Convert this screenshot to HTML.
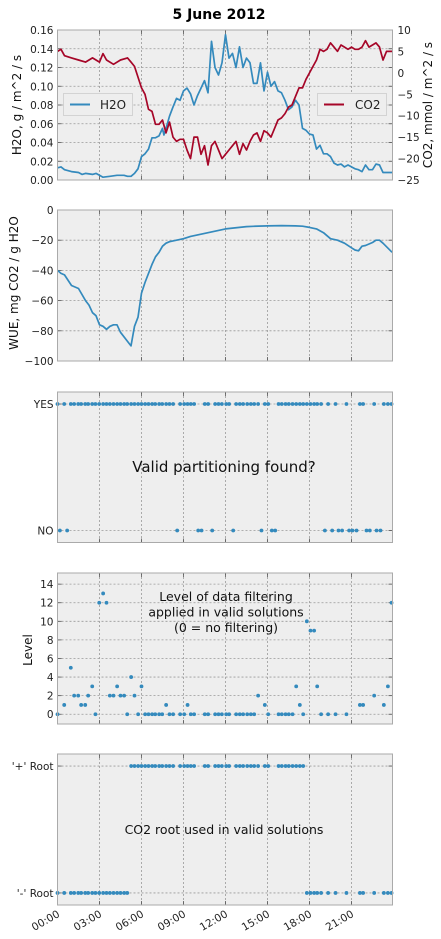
<!DOCTYPE html>
<html><head><meta charset="utf-8">
<style>
html,body{margin:0;padding:0;background:#fff;}
svg{display:block;font-family:"DejaVu Sans","Liberation Sans",sans-serif;}
</style></head>
<body>
<svg id="c" width="441" height="939" viewBox="0 0 441 939" xmlns="http://www.w3.org/2000/svg">
<text x="219" y="19" text-anchor="middle" font-size="14" font-weight="bold" fill="#000">5 June 2012</text>
</svg>
<script>
const h2oT=[0,0.25,0.5,1,1.5,1.75,2,2.5,2.75,3,3.25,3.75,4.25,4.75,5,5.25,5.5,5.75,6,6.25,6.5,6.75,7,7.25,7.5,7.6,7.75,8,8.25,8.5,8.75,9,9.25,9.5,9.75,10,10.25,10.5,10.75,11,11.25,11.5,11.75,12,12.25,12.5,12.75,13,13.25,13.5,13.75,14,14.25,14.5,14.75,15,15.25,15.5,15.75,16,16.25,16.5,16.75,17,17.25,17.5,17.75,18,18.25,18.5,18.75,19,19.25,19.5,19.75,20,20.25,20.5,20.75,21,21.25,21.5,21.75,22,22.25,22.5,22.75,23,23.25,23.9];
const h2oV=[0.013,0.014,0.011,0.009,0.008,0.006,0.007,0.006,0.007,0.005,0.003,0.004,0.005,0.005,0.004,0.004,0.007,0.012,0.025,0.028,0.033,0.045,0.045,0.047,0.055,0.048,0.055,0.068,0.078,0.087,0.085,0.095,0.098,0.092,0.080,0.090,0.098,0.106,0.093,0.148,0.120,0.112,0.125,0.155,0.130,0.135,0.120,0.142,0.120,0.130,0.125,0.103,0.103,0.125,0.095,0.115,0.100,0.105,0.095,0.093,0.085,0.075,0.078,0.085,0.080,0.055,0.053,0.049,0.048,0.033,0.037,0.028,0.028,0.025,0.018,0.016,0.017,0.014,0.016,0.014,0.012,0.011,0.009,0.016,0.011,0.011,0.017,0.016,0.008,0.008];
const co2T=[0,0.25,0.5,1,1.5,2,2.5,3,3.25,3.5,4,4.5,5,5.25,5.5,5.75,6,6.25,6.5,6.75,7,7.25,7.5,7.75,8,8.25,8.5,8.75,9,9.25,9.5,9.75,10,10.25,10.5,10.75,11,11.25,11.5,11.75,12,12.25,12.5,12.75,13,13.25,13.5,13.75,14,14.25,14.5,14.75,15,15.25,15.5,15.75,16,16.25,16.5,16.75,17,17.25,17.5,17.75,18,18.25,18.5,18.75,19,19.25,19.5,19.75,20,20.25,20.5,20.75,21,21.25,21.5,21.75,22,22.25,22.5,22.75,23,23.25,23.5,23.9];
const co2V=[5,5.5,4,3.5,3,2.5,3.5,2.5,4.5,3,2,3,3.5,2.5,1.5,-1,-3.5,-5,-8.5,-9,-12,-12,-11,-14,-11.5,-15,-16,-15.5,-15.5,-18,-20,-15,-15,-19,-17,-21.5,-17,-16,-18,-20,-19,-18,-17,-16,-19,-16.5,-18,-16,-14.5,-14,-16,-13.5,-14,-15,-13,-11,-10.5,-9.5,-8,-7.5,-5.5,-3.5,-3.5,-1.5,0,1.5,3,5.5,5,5.5,7,6,5,6.5,6,5.5,6,5.5,5.5,6,7.5,6,6.5,7,6,3,5,5];
const wueT=[0,0.25,0.5,1,1.25,1.5,2,2.25,2.5,2.75,3,3.25,3.5,3.75,4,4.25,4.5,5,5.25,5.5,5.75,6,6.25,6.5,6.75,7,7.25,7.5,7.75,8,8.5,9,9.5,10,10.5,11,11.5,12,12.5,13,13.5,14,15,16,17,17.5,18,18.5,19,19.25,19.5,20,20.5,21,21.25,21.5,21.75,22,22.5,22.75,23,23.25,23.9];
const wueV=[-40,-42,-43,-50,-51,-52,-60,-63,-68,-70,-76,-77,-79,-77,-76,-76,-81,-87,-90,-77,-71,-55,-48,-42,-36,-31,-28,-24,-22,-21,-20,-19,-17.5,-16.5,-15.5,-14.5,-13.5,-12.5,-12,-11.5,-11,-10.8,-10.5,-10.3,-10.5,-10.7,-11.5,-12.5,-15,-17,-19,-20,-22,-25,-26.5,-27,-24,-23.5,-21.5,-20,-20,-22,-28];
const validT=[0,0.48,0.95,1.19,1.48,1.69,1.98,2.19,2.48,2.71,2.98,3.26,3.5,3.74,4.0,4.26,4.5,4.76,4.98,5.26,5.5,5.76,6.0,6.26,6.5,6.76,6.98,7.26,7.48,7.76,8.0,8.26,8.76,9.05,9.29,9.52,9.76,10.52,10.76,11.26,11.5,11.74,12.05,12.26,12.76,13.02,13.26,13.55,13.81,14.05,14.33,14.81,15.05,15.79,16.02,16.29,16.52,16.79,17.05,17.31,17.55,17.81,18.07,18.33,18.55,18.83,19.33,19.86,20.64,21.6,21.83,22.62,23.31,23.6,23.86];
const levelV=[0,1,5,2,2,1,1,2,3,0,12,13,12,2,2,3,2,2,0,4,2,0,3,0,0,0,0,0,0,1,0,0,0,0,1,0,0,0,0,0,0,0,0,0,0,0,0,0,0,0,2,1,0,0,0,0,0,0,3,1,0,10,9,9,3,0,0,0,0,1,1,2,1,3,12];
const rootV=['-','-','-','-','-','-','-','-','-','-','-','-','-','-','-','-','-','-','-','+','+','+','+','+','+','+','+','+','+','+','+','+','+','+','+','+','+','+','+','+','+','+','+','+','+','+','+','+','+','+','+','+','+','+','+','+','+','+','+','+','+','-','-','-','-','-','-','-','-','-','-','-','-','-','-'];
const invalidT=[0.17,0.69,8.55,10.05,10.29,11.05,12.55,14.57,15.31,15.55,19.1,19.62,20.07,20.33,20.83,21.07,21.36,22.07,22.31,22.79,23.07];
const xTickLabels=['00:00','03:00','06:00','09:00','12:00','15:00','18:00','21:00'];

const NS='http://www.w3.org/2000/svg';
const svg=document.getElementById('c');
const X0=57.5,X1=392.5;
const xs=h=>X0+h*14;
function mk(tag,attrs,parent){const e=document.createElementNS(NS,tag);for(const k in attrs)e.setAttribute(k,attrs[k]);(parent||svg).appendChild(e);return e;}
function txt(s,attrs,parent){const e=mk('text',attrs,parent);e.textContent=s;return e;}
function lin(y0,y1,v0,v1){return v=>y0+(v-v0)*(y1-y0)/(v1-v0);}

function panel(name,top,bot,yTicks,yScale,yLabels){
  const g=mk('g',{});
  
  
  const bg=mk('rect',{x:X0,y:top,width:X1-X0,height:bot-top,fill:'#eeeeee'},g);
  
  
  for(let i=1;i<8;i++){const x=xs(i*3);mk('line',{x1:x,x2:x,y1:top,y2:bot,stroke:'#999',"stroke-width":0.8,"stroke-dasharray":'2,2'},g);
    mk('line',{x1:x,x2:x,y1:bot,y2:bot-4,stroke:'#555',"stroke-width":0.8},g);mk('line',{x1:x,x2:x,y1:top,y2:top+4,stroke:'#555',"stroke-width":0.8},g);}
  yTicks.forEach((v,i)=>{const y=yScale(v);
    if(y>top+0.5&&y<bot-0.5)mk('line',{x1:X0,x2:X1,y1:y,y2:y,stroke:'#999',"stroke-width":0.8,"stroke-dasharray":'2,2'},g);
    mk('line',{x1:X0,x2:X0+4,y1:y,y2:y,stroke:'#555',"stroke-width":0.8},g);
    mk('line',{x1:X1,x2:X1-4,y1:y,y2:y,stroke:'#555',"stroke-width":0.8},g);
    const t=txt(yLabels?yLabels[i]:String(v),{x:X0-4,y:y+4,"text-anchor":'end',"font-size":10.5,fill:'#222'},g);
    
    
  });
  return g;
}
function frame(g,top,bot){mk('rect',{x:X0,y:top,width:X1-X0,height:bot-top,fill:'none',stroke:'#aaa',"stroke-width":1},g);}
function path(g,T,V,xf,yf,color,name){
  const d=T.map((t,i)=>(i?'L':'M')+xf(t).toFixed(1)+','+yf(V[i]).toFixed(1)).join('');
  const p=mk('path',{d:d,fill:'none',stroke:color,"stroke-width":1.7,"stroke-linejoin":'round'},g);
  
  
}
function dots(g,T,V,yf,name){
  T.forEach((t,i)=>{const c=mk('circle',{cx:xs(t),cy:yf(V[i]),r:1.9,fill:'#348ABD'},g);
    
    });
}

// Panel 1
const y1=lin(30,180,0.16,0),y1r=lin(30,180,10,-25);
const g1=panel('flux-panel',30,180,[0,0.02,0.04,0.06,0.08,0.1,0.12,0.14,0.16],y1,['0.00','0.02','0.04','0.06','0.08','0.10','0.12','0.14','0.16']);
[10,5,0,-5,-10,-15,-20,-25].forEach(v=>{const y=y1r(v);const t=txt(String(v).replace('-','−'),{x:X1+5,y:y+4,"font-size":10.5,fill:'#222'},g1);
  
  });
path(g1,h2oT,h2oV,xs,y1,'#348ABD','h2o-line');
path(g1,co2T,co2V,xs,y1r,'#A60628','co2-line');
frame(g1,30,180);
const lg1=mk('g',{},g1);


mk('rect',{x:63.5,y:93.5,width:69,height:22,fill:'#eeeeee',stroke:'#ccc',"stroke-width":0.8},lg1);
mk('line',{x1:70,x2:90,y1:104.5,y2:104.5,stroke:'#348ABD',"stroke-width":2},lg1);
txt('H2O',{x:100,y:109,"font-size":12,fill:'#222'},lg1);
const lg2=mk('g',{},g1);


mk('rect',{x:317.5,y:93.5,width:69,height:22,fill:'#eeeeee',stroke:'#ccc',"stroke-width":0.8},lg2);
mk('line',{x1:324,x2:344,y1:104.5,y2:104.5,stroke:'#A60628',"stroke-width":2},lg2);
txt('CO2',{x:355,y:109,"font-size":12,fill:'#222'},lg2);
let t;
t=txt('H2O, g / m^2 / s',{x:0,y:0,transform:'translate(21,105) rotate(-90)',"text-anchor":'middle',"font-size":12,fill:'#111'});

t=txt('CO2, mmol / m^2 / s',{x:0,y:0,transform:'translate(432,105) rotate(-90)',"text-anchor":'middle',"font-size":12,fill:'#111'});


// Panel 2
const y2=lin(210,361,0,-100);
const g2=panel('wue-panel',210,361,[0,-20,-40,-60,-80,-100],y2,['0','−20','−40','−60','−80','−100']);
path(g2,wueT,wueV,xs,y2,'#348ABD','wue-line');
frame(g2,210,361);
t=txt('WUE, mg CO2 / g H2O',{x:0,y:0,transform:'translate(18,283) rotate(-90)',"text-anchor":'middle',"font-size":12,fill:'#111'});


// Panel 3
const y3=lin(392,542.5,1.095,-0.095);
const g3=panel('valid-panel',392,542.5,[1,0],y3,['YES','NO']);
dots(g3,validT,validT.map(()=>1),y3,'valid-yes-point');
dots(g3,invalidT,invalidT.map(()=>0),y3,'valid-no-point');
frame(g3,392,542.5);
t=txt('Valid partitioning found?',{x:224,y:472,"text-anchor":'middle',"font-size":15,fill:'#111'},g3);


// Panel 4
const y4=lin(573,724,15.2,-1.05);
const g4=panel('level-panel',573,724,[0,2,4,6,8,10,12,14],y4);
dots(g4,validT,levelV,y4,'level-point');
frame(g4,573,724);
const ann=txt('',{"text-anchor":'middle',"font-size":12.5,fill:'#111'},g4);

['Level of data filtering','applied in valid solutions','(0 = no filtering)'].forEach((s,i)=>{const ts=mk('tspan',{x:226,y:601+i*15.5},ann);ts.textContent=s;});
t=txt('Level',{x:0,y:0,transform:'translate(32,650) rotate(-90)',"text-anchor":'middle',"font-size":12,fill:'#111'});


// Panel 5
const y5=lin(754,905,1.095,-0.095);
const g5=panel('root-panel',754,905,[1,0],y5,["'+' Root","'-' Root"]);
dots(g5,validT,rootV.map(r=>r==='+'?1:0),y5,'root-point');
frame(g5,754,905);
t=txt('CO2 root used in valid solutions',{x:224,y:834,"text-anchor":'middle',"font-size":12.5,fill:'#111'},g5);


xTickLabels.forEach((s,i)=>{const x=xs(i*3);
  const e=txt(s,{x:0,y:0,transform:`translate(${x+3},${916}) rotate(-30)`,"text-anchor":'end',"font-size":10.5,fill:'#222'});
  
  
});
</script>
</body></html>
